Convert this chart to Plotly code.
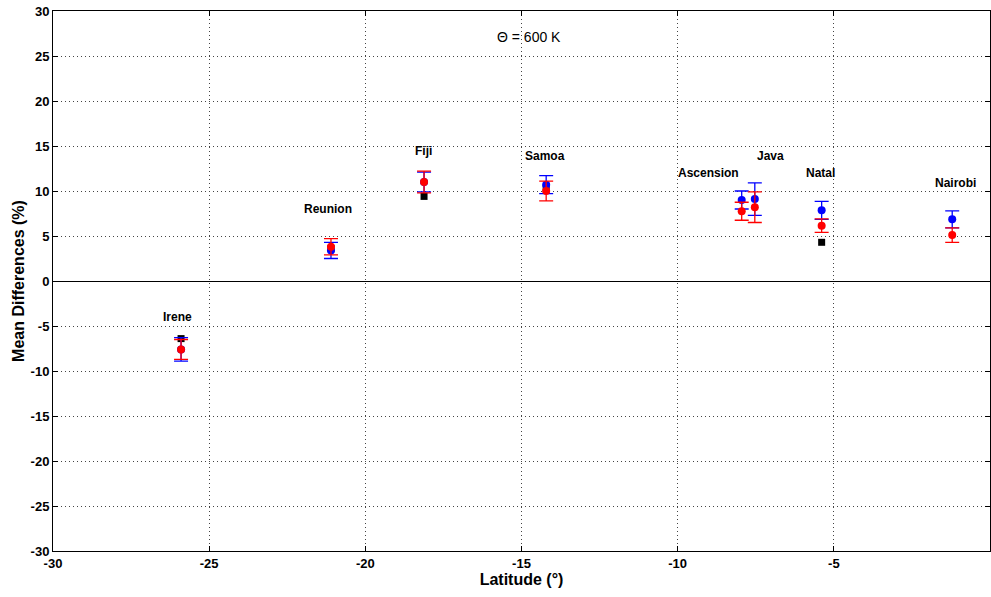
import plotly.graph_objects as go

stations = ["Irene", "Reunion", "Fiji", "Samoa", "Ascension", "Java", "Natal", "Nairobi"]
lat = [-25.9, -21.1, -18.12, -14.21, -7.95, -7.53, -5.39, -1.21]

blue_val = [-7.6, 3.4, 11.0, 10.7, 9.0, 9.1, 7.85, 6.85]
blue_err = [1.3, 0.9, 1.1, 1.0, 1.0, 1.8, 1.0, 0.95]
red_val = [-7.6, 3.8, 11.0, 10.0, 7.75, 8.2, 6.15, 5.1]
red_err = [1.1, 0.9, 1.2, 1.1, 1.0, 1.7, 0.75, 0.8]

black_lat = [-25.9, -21.1, -18.12, -14.21, -5.39]
black_val = [-6.4, 3.6, 9.4, 10.3, 4.3]

label_x = [-26.0, -21.2, -18.15, -14.25, -9.0, -7.04, -5.44, -1.12]
label_y = [-4.0, 8.0, 14.5, 13.9, 12.0, 13.9, 12.05, 10.9]

x_ticks = [-30, -25, -20, -15, -10, -5, 0]
y_ticks = [-30, -25, -20, -15, -10, -5, 0, 5, 10, 15, 20, 25, 30]

FONT = "Liberation Sans, Arial, sans-serif"
NARROW = "Liberation Sans Narrow, Liberation Sans, Arial, sans-serif"

fig = go.Figure()
fig.add_trace(go.Scatter(
    x=black_lat, y=black_val, mode="markers",
    marker=dict(symbol="square", size=7, color="black"), showlegend=False))
fig.add_trace(go.Scatter(
    x=lat, y=blue_val, mode="markers",
    marker=dict(symbol="circle", size=8, color="#0000ff"),
    error_y=dict(type="data", array=blue_err, color="#0000ff", thickness=1.3, width=7),
    showlegend=False))
fig.add_trace(go.Scatter(
    x=lat, y=red_val, mode="markers",
    marker=dict(symbol="circle", size=8, color="#ff0000"),
    error_y=dict(type="data", array=red_err, color="#ff0000", thickness=1.3, width=7),
    showlegend=False))

for name, lx, ly in zip(stations, label_x, label_y):
    fig.add_annotation(x=lx, y=ly, text="<b>" + name + "</b>", showarrow=False,
                       font=dict(family=FONT, size=12, color="black"))

fig.add_annotation(x=-14.76, y=27.1, text="Θ = 600 K", showarrow=False,
                   font=dict(family=FONT, size=14, color="black"))

axis_common = dict(
    showline=True, linecolor="black", linewidth=1, mirror="ticks",
    ticks="inside", ticklen=5, tickcolor="black",
    showgrid=True, gridcolor="#444444", griddash="1px,3px", gridwidth=1,
    tickfont=dict(family=NARROW, size=13, color="black", weight="bold"),
    automargin=False, tickmode="array",
)

fig.update_xaxes(range=[-30, 0], zeroline=False,
                 tickvals=x_ticks, ticktext=[str(v) for v in x_ticks],
                 title=dict(text="<b>Latitude (°)</b>", font=dict(family=FONT, size=16, color="black"), standoff=4),
                 **axis_common)
fig.update_yaxes(range=[-30, 30], zeroline=True, zerolinecolor="black", zerolinewidth=1,
                 tickvals=y_ticks, ticktext=[str(v) for v in y_ticks],
                 title=dict(text="<b>Mean Differences (%)</b>", font=dict(family=FONT, size=16, color="black"), standoff=2),
                 **axis_common)

fig.update_layout(
    width=991, height=597,
    margin=dict(l=53, r=1, t=11, b=46),
    plot_bgcolor="white", paper_bgcolor="white",
)

fig.write_html("out.html", config={"displayModeBar": False},
               post_script="document.body.style.margin='0';")
